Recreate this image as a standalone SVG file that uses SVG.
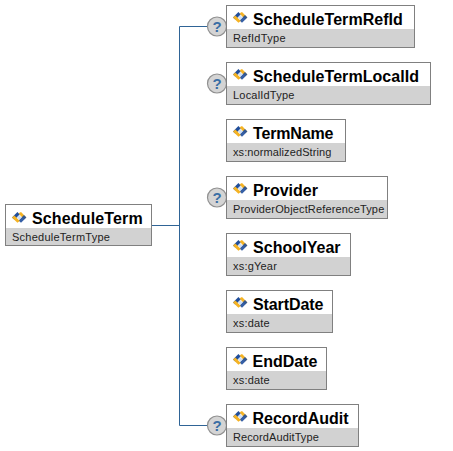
<svg xmlns="http://www.w3.org/2000/svg" width="453" height="451" viewBox="0 0 453 451">
<style>
.box{fill:#fff;stroke:#808080;stroke-width:1}
.band{fill:#d2d2d2}
.name{font:bold 16px "Liberation Sans",Arial,sans-serif;fill:#000}
.type{font:11px "Liberation Sans",Arial,sans-serif;fill:#222;letter-spacing:.2px}
.conn{fill:none;stroke:#2f6496;stroke-width:1}
.opt{fill:#d4d4d4;stroke:#909090;stroke-width:1.2}
.q{font:bold 15px "Liberation Sans",Arial,sans-serif;fill:#3a6ea5;text-anchor:middle}
</style>
<defs>
<g id="ic" transform="scale(1.2)">
<path d="M0 4.500L4.500 0L6.500 2L2 6.500Z" fill="#1f4e9c"/>
<path d="M5.500 1L7.500 0L12 4.500L10 6L7 3Z" fill="#f5b324"/>
<path d="M12 4.500L7.500 9L5.500 7L10 2.500Z" fill="#1f4e9c" opacity=".9"/>
<path d="M0 4.500L2 3L6.500 7.500L4.500 9Z" fill="#f5b324"/>
<path d="M4 4.500L6 2.500L8 4.500L6 6.500Z" fill="#cfe0f5"/>
</g>
</defs>
<g id="connectors">
<path class="conn" d="M151 225.500H179.500M179.500 26.500V425.500M179.500 26.500H208M179.500 425.500H208"/>
</g>
<g id="ScheduleTerm">
<rect class="box" x="5.500" y="204.500" width="146" height="41"/>
<rect class="band" x="6" y="228" width="145" height="17"/>
<use href="#ic" x="12" y="212"/>
<text class="name" x="32" y="224" style="letter-spacing:.15px">ScheduleTerm</text>
<text class="type" x="12" y="241" style="letter-spacing:.25px">ScheduleTermType</text>
</g>
<g id="ScheduleTermRefId">
<circle class="opt" cx="217" cy="26.500" r="9.500"/><text class="q" x="217" y="32">?</text>
<rect class="box" x="226.500" y="5.500" width="188" height="42"/>
<rect class="band" x="227" y="29" width="187" height="18"/>
<use href="#ic" x="233" y="12"/>
<text class="name" x="253" y="25" style="letter-spacing:.05px">ScheduleTermRefId</text>
<text class="type" x="233" y="42" style="letter-spacing:.3px">RefIdType</text>
</g>
<g id="ScheduleTermLocalId">
<circle class="opt" cx="217" cy="83.500" r="9.500"/><text class="q" x="217" y="89">?</text>
<rect class="box" x="226.500" y="62.500" width="204" height="42"/>
<rect class="band" x="227" y="86" width="203" height="18"/>
<use href="#ic" x="233" y="69"/>
<text class="name" x="253" y="82" style="letter-spacing:.05px">ScheduleTermLocalId</text>
<text class="type" x="233" y="99">LocalIdType</text>
</g>
<g id="TermName">
<rect class="box" x="226.500" y="119.500" width="119" height="42"/>
<rect class="band" x="227" y="143" width="118" height="18"/>
<use href="#ic" x="233" y="126"/>
<text class="name" x="253" y="139" style="letter-spacing:-.15px">TermName</text>
<text class="type" x="233" y="156" style="letter-spacing:.1px">xs:normalizedString</text>
</g>
<g id="Provider">
<circle class="opt" cx="217" cy="197.500" r="9.500"/><text class="q" x="217" y="203">?</text>
<rect class="box" x="226.500" y="176.500" width="161" height="42"/>
<rect class="band" x="227" y="200" width="160" height="18"/>
<use href="#ic" x="233" y="183"/>
<text class="name" x="253" y="196">Provider</text>
<text class="type" x="233" y="213" style="letter-spacing:.15px">ProviderObjectReferenceType</text>
</g>
<g id="SchoolYear">
<rect class="box" x="226.500" y="233.500" width="124" height="42"/>
<rect class="band" x="227" y="257" width="123" height="18"/>
<use href="#ic" x="233" y="240"/>
<text class="name" x="253" y="253" style="letter-spacing:.05px">SchoolYear</text>
<text class="type" x="233" y="270">xs:gYear</text>
</g>
<g id="StartDate">
<rect class="box" x="226.500" y="290.500" width="106" height="42"/>
<rect class="band" x="227" y="314" width="105" height="18"/>
<use href="#ic" x="233" y="297"/>
<text class="name" x="253" y="310" style="letter-spacing:-.1px">StartDate</text>
<text class="type" x="233" y="327">xs:date</text>
</g>
<g id="EndDate">
<rect class="box" x="226.500" y="347.500" width="100" height="42"/>
<rect class="band" x="227" y="371" width="99" height="18"/>
<use href="#ic" x="233" y="354"/>
<text class="name" x="252.500" y="367">EndDate</text>
<text class="type" x="233" y="384">xs:date</text>
</g>
<g id="RecordAudit">
<circle class="opt" cx="217" cy="425.500" r="9.500"/><text class="q" x="217" y="431">?</text>
<rect class="box" x="226.500" y="404.500" width="132" height="42"/>
<rect class="band" x="227" y="428" width="131" height="18"/>
<use href="#ic" x="233" y="411"/>
<text class="name" x="252.500" y="424">RecordAudit</text>
<text class="type" x="233" y="441" style="letter-spacing:.1px">RecordAuditType</text>
</g>
</svg>
